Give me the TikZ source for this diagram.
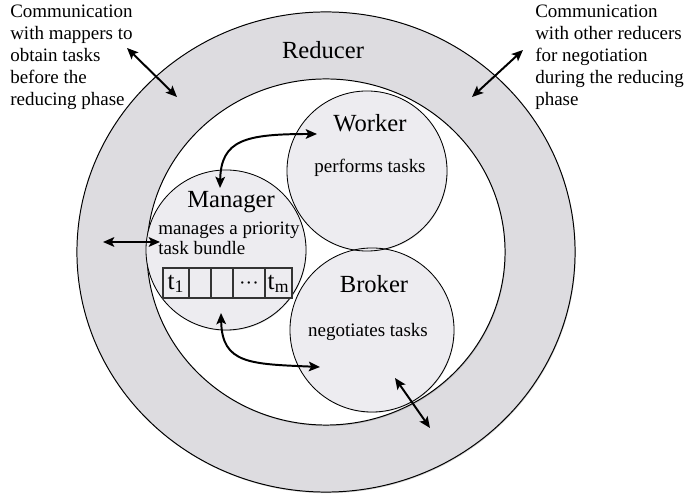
\documentclass[tikz,border=0pt]{standalone}
\usepackage{fontspec}
\setmainfont{Liberation Serif}
\usepackage{tikz}
\usetikzlibrary{arrows.meta}
\usetikzlibrary{shapes.geometric}
\usetikzlibrary{shadows}
\definecolor{ringgray}{RGB}{221,220,224}
\definecolor{unitgray}{RGB}{237,236,240}
\tikzstyle{ringnode}=[draw=black, line width=0.7pt, shape=ellipse, inner sep=0pt, drop shadow={shadow xshift=0.5pt, shadow yshift=-0.8pt, opacity=0.35}]
\tikzstyle{unitnode}=[fill=unitgray, shape=circle, inner sep=0pt, drop shadow={shadow xshift=0.4pt, shadow yshift=-0.6pt, opacity=0.3}]
\tikzstyle{unitline}=[draw=black, line width=0.6pt]
\tikzstyle{cellnode}=[draw=black!80, line width=0.8pt, fill=unitgray, shape=rectangle, minimum height=0.75cm, inner sep=0pt, text height=13pt, text depth=4pt, font=\fontsize{18}{20}\selectfont]
\tikzstyle{bigtext}=[black, inner sep=0pt, font=\fontsize{17.5}{20}\selectfont]
\tikzstyle{smalltext}=[black, inner sep=0pt, font=\fontsize{13.5}{15.6}\selectfont]
\tikzstyle{dblarrow}=[{Stealth[length=0.28cm, width=0.24cm, inset=0.06cm]}-{Stealth[length=0.28cm, width=0.24cm, inset=0.06cm]}, line width=1.4pt, color=black]

\begin{document}
\begin{tikzpicture}[x=0.025cm, y=-0.025cm]
\useasboundingbox (0,0) rectangle (685,497);

\node [ringnode, fill=ringgray, minimum width=12.45cm, minimum height=12cm] (reducer) at (326,252) {};
\node [ringnode, fill=white, minimum width=8.95cm, minimum height=8.65cm] (core) at (326,252) {};
\node [unitnode, minimum size=4cm] (worker) at (367,171) {};
\node [unitnode, minimum size=4.1cm] (broker) at (372,330) {};
\node [unitnode, minimum size=4cm] (manager) at (226,250) {};
\draw [unitline] (worker.center) circle [radius=2cm];
\draw [unitline] (broker.center) circle [radius=2.05cm];
\draw [unitline] (manager.center) circle [radius=2cm];

\node [bigtext, anchor=base] (reducerlabel) at (323,59) {Reducer};
\node [bigtext, anchor=base] (workerlabel) at (370,132) {Worker};
\node [smalltext, anchor=base] (workerdescr) at (370,173) {performs tasks};
\node [bigtext, anchor=base] (brokerlabel) at (374,293) {Broker};
\node [smalltext, anchor=base] (brokerdescr) at (368,337) {negotiates tasks};
\node [bigtext, anchor=base] (managerlabel) at (231,208) {Manager};
\node [smalltext, anchor=north west, align=left, font=\fontsize{13.5}{14.2}\selectfont] (managerdescr) at (158,222) {manages a priority\\ task bundle};

\node [smalltext, anchor=north west, align=left] (mapperdescr) at (10,5) {Communication\\ with mappers to\\ obtain tasks\\ before the\\ reducing phase};
\node [smalltext, anchor=north west, align=left] (peerdescr) at (535,5) {Communication\\ with other reducers\\ for negotiation\\ during the reducing\\ phase};

% task bundle
\node [cellnode, minimum width=0.65cm] (cell1) at (176,283) {t\textsubscript{1}};
\node [cellnode, minimum width=0.55cm] (cell2) at (200,283) {};
\node [cellnode, minimum width=0.55cm] (cell3) at (222,283) {};
\node [cellnode, minimum width=0.8cm] (cell4) at (249,283) {\fontsize{14}{14}\selectfont ···};
\node [cellnode, minimum width=0.675cm] (cell5) at (278.5,283) {t\textsubscript{m}};

% arrow ends
\coordinate (mapperout) at (127,48);
\coordinate (mapperin) at (177,97);
\coordinate (peerout) at (523,50);
\coordinate (peerin) at (472,97);
\coordinate (leftout) at (103,242);
\coordinate (leftin) at (160,242);
\coordinate (brokerout) at (430,428);
\coordinate (brokerin) at (395,378);
\coordinate (mgrtop) at (220,188);
\coordinate (workerin) at (317,134);
\coordinate (mgrbottom) at (221,313);
\coordinate (brokerleft) at (320,367);

\draw [dblarrow] (mapperout) -- (mapperin);
\draw [dblarrow] (peerout) -- (peerin);
\draw [dblarrow] (leftout) -- (leftin);
\draw [dblarrow] (brokerin) -- (brokerout);
\draw [dblarrow] (mgrtop) .. controls (221,140) and (245,134) .. (workerin);
\draw [dblarrow] (mgrbottom) .. controls (222,364) and (250,364) .. (brokerleft);
\end{tikzpicture}
\end{document}
